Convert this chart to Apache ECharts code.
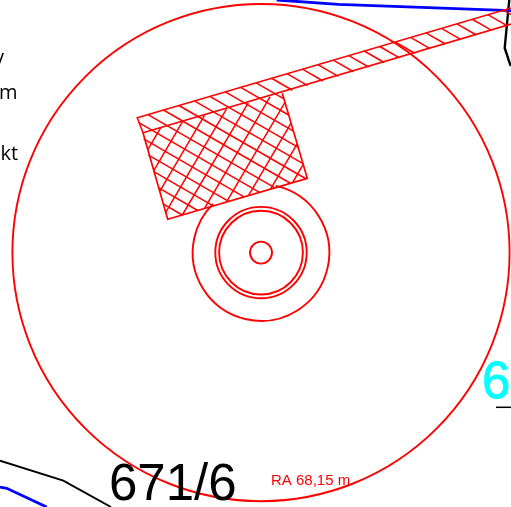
<!DOCTYPE html>
<html><head><meta charset="utf-8">
<style>html,body{margin:0;padding:0;background:#fff}#c{width:511px;height:507px}</style>
<script src="https://cdn.jsdelivr.net/npm/echarts@6/dist/echarts.min.js"></script>
</head><body><div id="c"></div>
<script>
// Map geometry, in map units (x right, y down)
const rings = [ // cx, cy, r, startDeg, endDeg
  [261, 252.6, 248.6, 0, 360],
  [261, 252.6, 45.7, 0, 360],
  [261, 252.6, 41.9, 0, 360],
  [261, 252.6, 11, 0, 360],
  [261, 252.6, 68.3, -77.5, 225.5]
];
const stripOutline = [[143,132.7],[137.3,117.7],[511,7.9]];
const stripLower = [[143,132.7],[511,24.1]];
const rectOutline = [[282.3,93.3],[307.3,178.3],[167.7,219.3],[143,132.7]];
const hatchZone = [[137.3,117.7],[511,7.9],[511,24.1],[282.3,93.3],[307.3,178.3],[167.7,219.3]];
const crossZone = [[143,132.7],[282.3,93.3],[307.3,178.3],[167.7,219.3]];
const hatchDown = [109.85,96.4,82.95,69.5,56.05,42.6,29.15,15.7,2.25,-11.2,-24.65,-38.1,-51.55,-65,-78.45,-91.9,-105.35,-118.8,-132.25,-145.7,-159.15,-172.6,-186.05,-199.5,-212.95,-226.4,-239.85,-253.3,-266.75,-280.2];
const hatchUp = [401,432,463,494,525,556,587,618,649,680];
const blueTop = [[276.7,0],[338.3,4.3],[511,10.6]];
const blueLow = [[0,487],[6.7,488.3],[46.7,507]];
const blackTop = [[509.3,0],[508.3,10],[504.7,48],[510,64],[511,66]];
const blackLow = [[0,460.7],[63.3,480.7],[111,507]];
const blackDash = [[496,407.3],[511,407.3]];
const parcelText = ['671/6'];
const parcelAt = [[109,511]];
const radiusText = ['RA 68,15 m'];
const radiusAt = [[271,488.5]];
const cyanText = ['6'];
const cyanAt = [[482,409.5]];
const noteText = ['y','m','kt'];
const noteAt = [[-6,68],[-1,103],[0.5,164]];

function clipLine(m, c, poly){
  const xs=[];
  for(let i=0;i<poly.length;i++){
    const a=poly[i], b=poly[(i+1)%poly.length];
    const fa=a[1]-m*a[0]-c, fb=b[1]-m*b[0]-c;
    if((fa<0)!==(fb<0)){ xs.push(a[0]+(b[0]-a[0])*fa/(fa-fb)); }
  }
  xs.sort((p,q)=>p-q);
  const segs=[];
  for(let i=0;i+1<xs.length;i+=2){ segs.push([xs[i],m*xs[i]+c,xs[i+1],m*xs[i+1]+c]); }
  return segs;
}
const hatchSegs=[];
hatchDown.forEach(c=>hatchSegs.push(...clipLine(0.577,c,hatchZone)));
hatchUp.forEach(c=>hatchSegs.push(...clipLine(-1.7,c,crossZone)));

const RED='#ff0000';
const line=(data,color,width,z)=>({type:'line',data,symbol:'none',silent:true,animation:false,z:z||2,
  lineStyle:{color,width,cap:'butt',join:'miter'}});
const textSeries=(texts,points,font,size,color,z,outline)=>({type:'custom',silent:true,animation:false,clip:false,z:z||4,
  coordinateSystem:'cartesian2d',
  data:points.map((p,i)=>[p[0],p[1],texts[i]]),
  encode:{x:0,y:1},
  renderItem:(params,api)=>{
    const p=api.coord([api.value(0),api.value(1)]);
    return {type:'text',style:{x:p[0],y:p[1],text:texts[params.dataIndex],fontFamily:font,fontSize:size,fill:color,textAlign:'left',textVerticalAlign:'bottom',stroke:outline?color:null,lineWidth:outline||0}};
  }});

const chart=echarts.init(document.getElementById('c'),null,{renderer:'canvas'});
chart.setOption({
  animation:false,backgroundColor:'#fff',
  grid:{left:0,right:0,top:0,bottom:0,containLabel:false},
  xAxis:{type:'value',min:0,max:511,show:false},
  yAxis:{type:'value',min:0,max:507,inverse:true,show:false},
  series:[
    line(blackTop,'#000',2.4),line(blackLow,'#000',1.9),line(blackDash,'#000',1.5),
    line(blueTop,'#0000ff',2.8),line(blueLow,'#0000ff',2.8),
    {type:'custom',silent:true,animation:false,z:3,coordinateSystem:'cartesian2d',
     data:hatchSegs,encode:{x:[0,2],y:[1,3]},
     renderItem:(params,api)=>{
       const a=api.coord([api.value(0),api.value(1)]), b=api.coord([api.value(2),api.value(3)]);
       return {type:'line',shape:{x1:a[0],y1:a[1],x2:b[0],y2:b[1]},style:{stroke:RED,lineWidth:1.5,fill:null}};
     }},
    line(stripOutline,RED,1.6,3),line(stripLower,RED,1.6,3),line(rectOutline,RED,1.7,3),
    {type:'custom',silent:true,animation:false,z:3,coordinateSystem:'cartesian2d',
     data:rings,encode:{x:0,y:1},
     renderItem:(params,api)=>{
       const c=api.coord([api.value(0),api.value(1)]), r=api.size([api.value(2),0])[0];
       return {type:'arc',shape:{cx:c[0],cy:c[1],r,startAngle:api.value(3)*Math.PI/180,endAngle:api.value(4)*Math.PI/180,clockwise:true},
         style:{stroke:RED,lineWidth:1.9,fill:null}};
     }},
    textSeries(parcelText,parcelAt,'"Liberation Sans"',51,'#000'),
    textSeries(radiusText,radiusAt,'"Liberation Sans"',15,RED),
    textSeries(cyanText,cyanAt,'"Liberation Sans"',51,'#00ffff',4,0.8),
    textSeries(noteText,noteAt,'"Open Sans"',20,'#000')
  ]
});
</script></body></html>
